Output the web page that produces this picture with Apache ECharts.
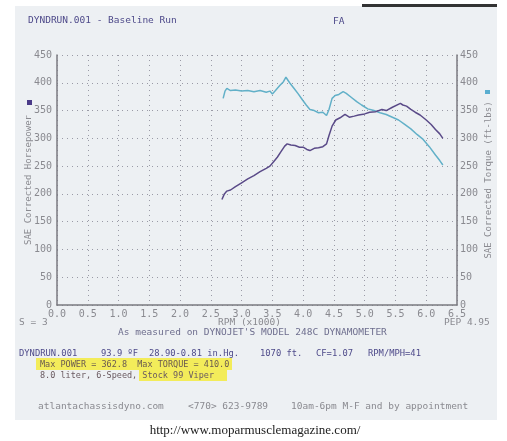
<!DOCTYPE html>
<html><head><meta charset="utf-8">
<script src="https://cdn.jsdelivr.net/npm/echarts@6/dist/echarts.min.js"></script>
<style>html,body{margin:0;padding:0;background:#fff}#c{width:507px;height:441px}</style>
</head><body><div id="c"></div>
<script>
const rpmTicks = ['0.0','0.5','1.0','1.5','2.0','2.5','3.0','3.5','4.0','4.5','5.0','5.5','6.0','6.5'];
const yTicks = [0,50,100,150,200,250,300,350,400,450];
const torqueRpm = [2.70,2.73,2.76,2.82,2.90,3.00,3.10,3.20,3.30,3.40,3.46,3.50,3.55,3.62,3.68,3.72,3.78,3.85,3.92,3.99,4.05,4.11,4.18,4.25,4.32,4.38,4.42,4.47,4.52,4.58,4.65,4.70,4.78,4.87,4.95,5.05,5.15,5.25,5.35,5.45,5.55,5.65,5.75,5.85,5.95,6.05,6.15,6.22,6.27];
const torqueVal = [372,385,390,386,387,385,386,384,386,383,385,380,386,395,402,410,400,390,380,369,360,352,350,346,347,341,352,372,377,379,384,381,374,366,360,353,350,346,343,338,333,325,317,307,298,285,270,260,252];
const powerRpm = [2.68,2.72,2.76,2.82,2.90,3.00,3.10,3.20,3.30,3.40,3.46,3.52,3.58,3.64,3.70,3.74,3.80,3.87,3.94,4.00,4.06,4.11,4.18,4.25,4.32,4.38,4.42,4.47,4.53,4.60,4.68,4.75,4.83,4.90,5.00,5.08,5.18,5.28,5.35,5.45,5.58,5.62,5.68,5.75,5.82,5.90,6.00,6.08,6.15,6.22,6.27];
const powerVal = [190,200,205,207,213,220,227,233,240,246,250,258,266,276,286,290,288,287,284,284,280,278,282,283,285,290,305,322,333,337,343,338,340,342,344,347,348,352,350,356,362.8,360,358,352,347,342,333,325,316,308,300];

const mono = '"DejaVu Sans Mono", "Liberation Mono", monospace';
const chart = echarts.init(document.getElementById('c'), null, {renderer:'canvas'});
const axisLine = {show:true, lineStyle:{color:'#7a7a80', width:1.5}};
const split = {show:true, lineStyle:{color:'#9a9aa6', type:[1,4], width:1}};
const lbl = {color:'#8a8a90', fontFamily:mono, fontSize:10};
const nameStyle = {color:'#8a8a90', fontFamily:mono, fontSize:9};
function txt(x,y,t,opt){return {type:'text', x:x, y:y, style:Object.assign({text:t, fill:'#4e4a8a', font:'9.5px '+mono}, opt||{})};}
const small = '8.8px '+mono;
const hl = '8.5px '+mono;
chart.setOption({
  backgroundColor:'#ffffff',
  animation:false,
  grid:{left:57, right:50, top:55, bottom:136, containLabel:false},
  xAxis:{type:'value', min:0, max:6.5, interval:0.5, axisLine:axisLine, axisTick:{show:false},
    splitLine:split, axisLabel:Object.assign({}, lbl, {margin:4, formatter:function(v){return rpmTicks[Math.round(v*2)];}})},
  yAxis:[
    {type:'value', min:0, max:450, interval:50, position:'left', axisLine:axisLine, axisTick:{show:false}, splitLine:split,
      axisLabel:Object.assign({}, lbl, {margin:5, formatter:function(v){return String(yTicks[Math.round(v/50)]);}}),
      name:'SAE Corrected Horsepower', nameLocation:'middle', nameGap:24, nameRotate:90, nameMoveOverlap:false,
      nameTextStyle:nameStyle},
    {type:'value', min:0, max:450, interval:50, position:'right', axisLine:axisLine, axisTick:{show:false}, splitLine:{show:false},
      axisLabel:Object.assign({}, lbl, {margin:3, formatter:function(v){return String(yTicks[Math.round(v/50)]);}}),
      name:'SAE Corrected Torque (ft-lbs)', nameLocation:'middle', nameGap:27, nameRotate:90, nameMoveOverlap:false,
      nameTextStyle:nameStyle}
  ],
  series:[
    {type:'line', name:'Torque', yAxisIndex:1, showSymbol:false, data:torqueRpm.map((r,i)=>[r,torqueVal[i]]),
      lineStyle:{color:'#62b0c8', width:1.5}, z:3},
    {type:'line', name:'Power', yAxisIndex:0, showSymbol:false, data:powerRpm.map((r,i)=>[r,powerVal[i]]),
      lineStyle:{color:'#5a4a88', width:1.5}, z:4}
  ],
  graphic:[
    {type:'rect', shape:{x:15,y:6,width:482,height:414}, style:{fill:'#edf0f3'}, z:-10, silent:true},
    {type:'rect', shape:{x:362,y:4,width:135,height:3}, style:{fill:'#333'}, z:-9},
    {type:'rect', shape:{x:27,y:100,width:5,height:5}, style:{fill:'#4a3a88'}},
    {type:'rect', shape:{x:485,y:90,width:5,height:4}, style:{fill:'#5aaed0'}},
    {type:'rect', shape:{x:36,y:358,width:196,height:12}, style:{fill:'#f3ec5a'}, z:-5},
    {type:'rect', shape:{x:139,y:369,width:88,height:12}, style:{fill:'#f3ec5a'}, z:-5},
    txt(28,16,'DYNDRUN.001 - Baseline Run'),
    txt(333,17,'FA'),
    txt(19,318,'S = 3',{fill:'#8a8a90'}),
    txt(218,318,'RPM (x1000)',{fill:'#8a8a90'}),
    txt(444,318,'PEP 4.95',{fill:'#8a8a90'}),
    txt(118,328,"As measured on DYNOJET'S MODEL 248C DYNAMOMETER",{fill:'#6e6e8e'}),
    txt(19,349,'DYNDRUN.001',{font:small}),
    txt(101,349,'93.9 ºF',{font:small}),
    txt(149,349,'28.90-0.81 in.Hg.',{font:small}),
    txt(260,349,'1070 ft.',{font:small}),
    txt(316,349,'CF=1.07',{font:small}),
    txt(368,349,'RPM/MPH=41',{font:small}),
    txt(40,360,'Max POWER = 362.8  Max TORQUE = 410.0',{fill:'#6a5a50', font:hl}),
    txt(40,371,'8.0 liter, 6-Speed, Stock 99 Viper',{fill:'#6a5a60', font:hl}),
    txt(38,402,'atlantachassisdyno.com',{fill:'#8a8a90'}),
    txt(188,402,'<770> 623-9789',{fill:'#8a8a90'}),
    txt(291,402,'10am-6pm M-F and by appointment',{fill:'#8a8a90'}),
    {type:'text', x:255, y:424, style:{text:'http://www.moparmusclemagazine.com/', fill:'#222', font:'13px "Liberation Serif", "DejaVu Serif", serif', textAlign:'center'}}
  ]
});
</script></body></html>
